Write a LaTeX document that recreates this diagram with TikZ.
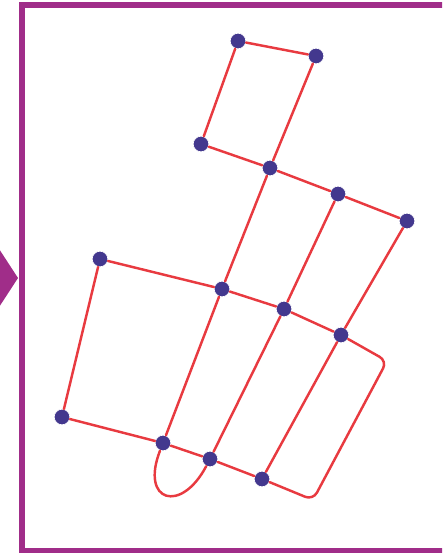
\documentclass[tikz,border=0pt]{standalone}
\usepackage{tikz}
\usetikzlibrary{calc}
\definecolor{framepurple}{RGB}{160,45,137}
\definecolor{edgered}{RGB}{232,58,64}
\definecolor{dotblue}{RGB}{67,56,142}

\begin{document}
\begin{tikzpicture}[x=0.03cm, y=-0.03cm, thick,
        dot/.style={circle, fill=dotblue, draw=white, line width=0.6pt, inner sep=0pt, minimum size=0.47cm},
        edge/.style={draw=edgered, line width=2.1pt, line cap=round},
        frame/.style={draw=framepurple, line width=4.3pt}]

        \useasboundingbox (0,0) rectangle (442,553);
        \clip (0,0) rectangle (442,553);

        % frame and arrow
        \draw [frame] (22,5) rectangle (470,551);
        \fill [framepurple] (-10,235) -- (18,278) -- (-10,321) -- cycle;

        % dots
        \node [dot] (a) at (238,41) {};
        \node [dot] (b) at (316,56) {};
        \node [dot] (c) at (201,144) {};
        \node [dot] (d) at (270,168) {};
        \node [dot] (e) at (338,194) {};
        \node [dot] (f) at (407,221) {};
        \node [dot] (g) at (100,259) {};
        \node [dot] (h) at (222,289) {};
        \node [dot] (i) at (284,309) {};
        \node [dot] (j) at (341,335) {};
        \node [dot] (k) at (62,417) {};
        \node [dot] (l) at (163,443) {};
        \node [dot] (m) at (210,459) {};
        \node [dot] (n) at (262,479) {};
        \coordinate (ca) at (387,361);
        \coordinate (cb) at (313,500);

        % edges
        \path [edge] (a) -- (b);
        \path [edge] (a) -- (c);
        \path [edge] (b) -- (d);
        \path [edge] (c) -- (d);
        \path [edge] (d) -- (e);
        \path [edge] (e) -- (f);
        \path [edge] (d) -- (h);
        \path [edge] (e) -- (i);
        \path [edge] (f) -- (j);
        \path [edge] (g) -- (h);
        \path [edge] (h) -- (i);
        \path [edge] (i) -- (j);
        \path [edge] (g) -- (k);
        \path [edge] (h) -- (l);
        \path [edge] (i) -- (m);
        \path [edge] (j) -- (n);
        \path [edge] (k) -- (l);
        \path [edge] (l) -- (m);
        \path [edge] (m) -- (n);
        \path [edge, rounded corners=0.25cm] (j) -- (ca) -- (cb) -- (n);
        \path [edge] (l) .. controls (140,502) and (181,514) .. (m);
\end{tikzpicture}
\end{document}
